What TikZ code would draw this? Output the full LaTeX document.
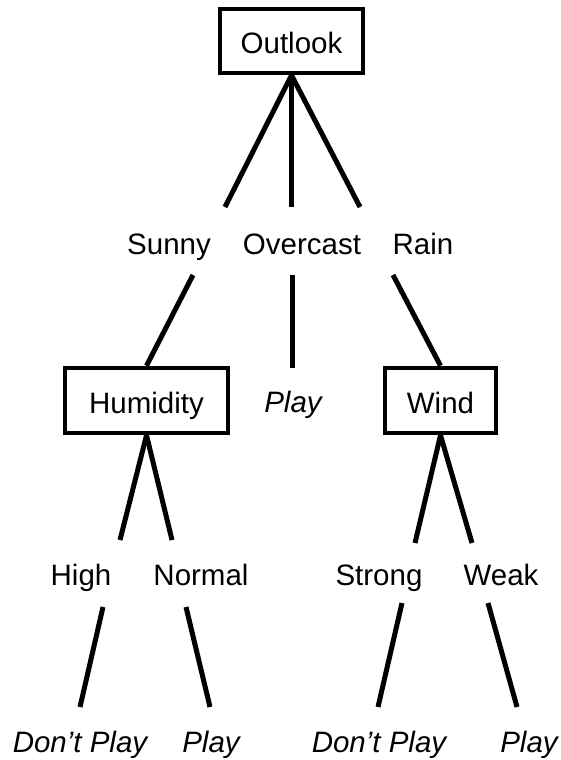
\documentclass[tikz,border=0pt]{standalone}
\usepackage{fontspec}
\setmainfont{Liberation Sans}
\begin{document}
\begin{tikzpicture}[x=1pt,y=-1pt,
  lbl/.style={font=\fontsize{29.5}{31}\selectfont, inner sep=0pt, anchor=base},
  leaf/.style={lbl, font=\fontsize{29.5}{31}\itshape\selectfont},
  attr/.style={draw=black, line width=4.5pt, font=\fontsize{29.5}{31}\selectfont,
    text height=25pt, text depth=0pt, inner sep=0pt},
  edge/.style={line width=5pt, black}]
\useasboundingbox (0,0) rectangle (560,760);
% attribute boxes
\node[attr, minimum width=143pt, minimum height=64pt] (outlook) at (291.5,41) {Outlook};
\node[attr, minimum width=163pt, minimum height=65pt] (humidity) at (146.5,400.5) {Humidity};
\node[attr, minimum width=111pt, minimum height=65pt] (wind) at (440.5,400.5) {Wind};
% value labels
\node[lbl] (sunny) at (169,254) {Sunny};
\node[lbl] (overcast) at (302,254) {Overcast};
\node[lbl] (rain) at (423,254) {Rain};
\node[leaf] (play1) at (293,412) {Play};
\node[lbl] (high) at (81,585) {High};
\node[lbl] (normal) at (201,585) {Normal};
\node[lbl] (strong) at (379,585) {Strong};
\node[lbl] (weak) at (501,585) {Weak};
\node[leaf] (dp1) at (80,752) {Don’t Play};
\node[leaf] (play2) at (211,752) {Play};
\node[leaf] (dp2) at (379,752) {Don’t Play};
\node[leaf] (play3) at (529,752) {Play};
% connector end points
\coordinate (sunnyT) at (225,207);
\coordinate (overT) at (291.5,207);
\coordinate (rainT) at (360,207);
\coordinate (sunnyB) at (193,275);
\coordinate (overB) at (292,275);
\coordinate (overE) at (292,368);
\coordinate (rainB) at (393,275);
\coordinate (highT) at (120,540);
\coordinate (normalT) at (172,540);
\coordinate (highB) at (103,607);
\coordinate (highE) at (80,707);
\coordinate (normalB) at (186,607);
\coordinate (normalE) at (210,707);
\coordinate (strongT) at (415,543);
\coordinate (weakT) at (472,543);
\coordinate (strongB) at (402,603);
\coordinate (strongE) at (378,707);
\coordinate (weakB) at (488,603);
\coordinate (weakE) at (517,707);
% connectors
\draw[edge] (outlook.south) -- (sunnyT);
\draw[edge] (outlook.south) -- (overT);
\draw[edge] (outlook.south) -- (rainT);
\draw[edge] (sunnyB) -- (humidity.north);
\draw[edge] (overB) -- (overE);
\draw[edge] (rainB) -- (wind.north);
\draw[edge] (humidity.south) -- (highT);
\draw[edge] (humidity.south) -- (normalT);
\draw[edge] (highB) -- (highE);
\draw[edge] (normalB) -- (normalE);
\draw[edge] (wind.south) -- (strongT);
\draw[edge] (wind.south) -- (weakT);
\draw[edge] (strongB) -- (strongE);
\draw[edge] (weakB) -- (weakE);
\end{tikzpicture}
\end{document}
